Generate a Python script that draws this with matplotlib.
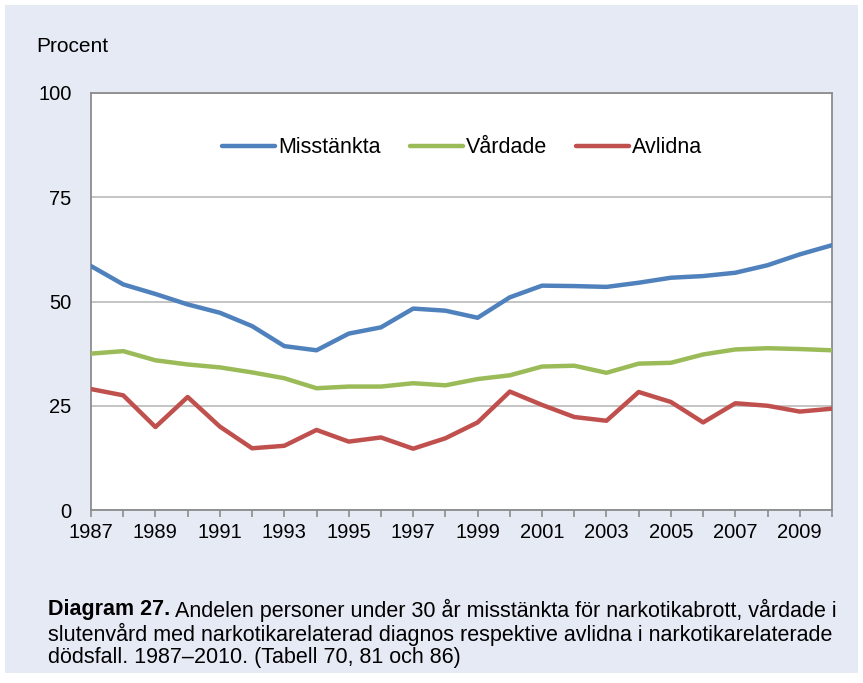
import numpy as np
import matplotlib
matplotlib.use("Agg")
from matplotlib import pyplot as plt
from matplotlib.patches import Rectangle

plt.rcParams['font.family'] = ['Liberation Sans', 'DejaVu Sans']

years = list(range(1987, 2011))
misstankta = [58.5, 54.1, 51.8, 49.3, 47.3, 44.1, 39.3, 38.3, 42.3, 43.8, 48.3, 47.8,
              46.1, 51.0, 53.8, 53.7, 53.5, 54.5, 55.7, 56.1, 56.9, 58.7, 61.3, 63.5]
vardade = [37.5, 38.1, 35.9, 34.9, 34.2, 33.0, 31.6, 29.2, 29.6, 29.6, 30.4, 29.9,
           31.4, 32.3, 34.4, 34.6, 32.9, 35.1, 35.3, 37.3, 38.5, 38.8, 38.6, 38.3]
avlidna = [29.0, 27.5, 19.9, 27.1, 20.0, 14.8, 15.4, 19.2, 16.4, 17.4, 14.7, 17.2,
           21.0, 28.4, 25.2, 22.3, 21.4, 28.3, 25.9, 21.0, 25.6, 25.0, 23.6, 24.3]
labels = ["Misstänkta", "Vårdade", "Avlidna"]
colors = ["#4F81BD", "#9BBB59", "#C0504D"]

W, H = 863, 683
fig = plt.figure(figsize=(W / 100, H / 100), dpi=100)
fig.patch.set_facecolor("white")
# lavender box behind everything
fig.patches.append(Rectangle((5 / W, 1 - 673 / H), 853 / W, 668 / H,
                             transform=fig.transFigure, facecolor="#E6EAF5",
                             edgecolor="none", zorder=-10))

ax = fig.add_axes([91 / W, 1 - 510 / H, (832 - 91) / W, (510 - 93) / H], zorder=2)
ax.set_facecolor("white")

for series, lab, col in zip([misstankta, vardade, avlidna], labels, colors):
    ax.plot(years, series, color=col, lw=3.2, label=lab, solid_capstyle="round",
            solid_joinstyle="round", zorder=3)

ax.set_xlim(1987, 2010)
ax.set_ylim(0, 100)
ax.set_yticks([0, 25, 50, 75, 100])
ax.set_xticks(years, minor=True)
ax.set_xticks(years[::2])
ax.tick_params(axis="x", which="both", direction="out", length=5, width=1.2,
               color="#8C8C8C", labelsize=14.5, pad=4)
ax.tick_params(axis="y", length=0, labelsize=14.5, pad=14)
ax.grid(axis="y", color="#BFBFBF", lw=1.3)
ax.set_axisbelow(True)
for s in ax.spines.values():
    s.set_color("#8C8C8C")
    s.set_linewidth(1.3)

ax.legend(loc="upper center", bbox_to_anchor=(0.501, 0.94), ncol=3, frameon=False,
          fontsize=15.5, handlelength=2.45, handletextpad=0.15, columnspacing=1.35)

fig.text(36 / W, 1 - 47 / H, "Procent", fontsize=15, va="center", ha="left")

caption = [
    "Andelen personer under 30 år misstänkta för narkotikabrott, vårdade i",
    "slutenvård med narkotikarelaterad diagnos respektive avlidna i narkotikarelaterade",
    "dödsfall. 1987–2010. (Tabell 70, 81 och 86)",
]
t = fig.text(48 / W, 1 - 610 / H, "Diagram 27.", fontsize=15.5, fontweight="bold",
             va="center", ha="left")
fig.canvas.draw()
bb = t.get_window_extent()
fig.text((bb.x1 + 5) / W, 1 - 610 / H, caption[0], fontsize=15.5, va="center", ha="left")
fig.text(48 / W, 1 - 634 / H, caption[1], fontsize=15.5, va="center", ha="left")
fig.text(48 / W, 1 - 658 / H, caption[2], fontsize=15.5, va="center", ha="left")

fig.savefig("out.png", dpi=100, facecolor=fig.get_facecolor())
